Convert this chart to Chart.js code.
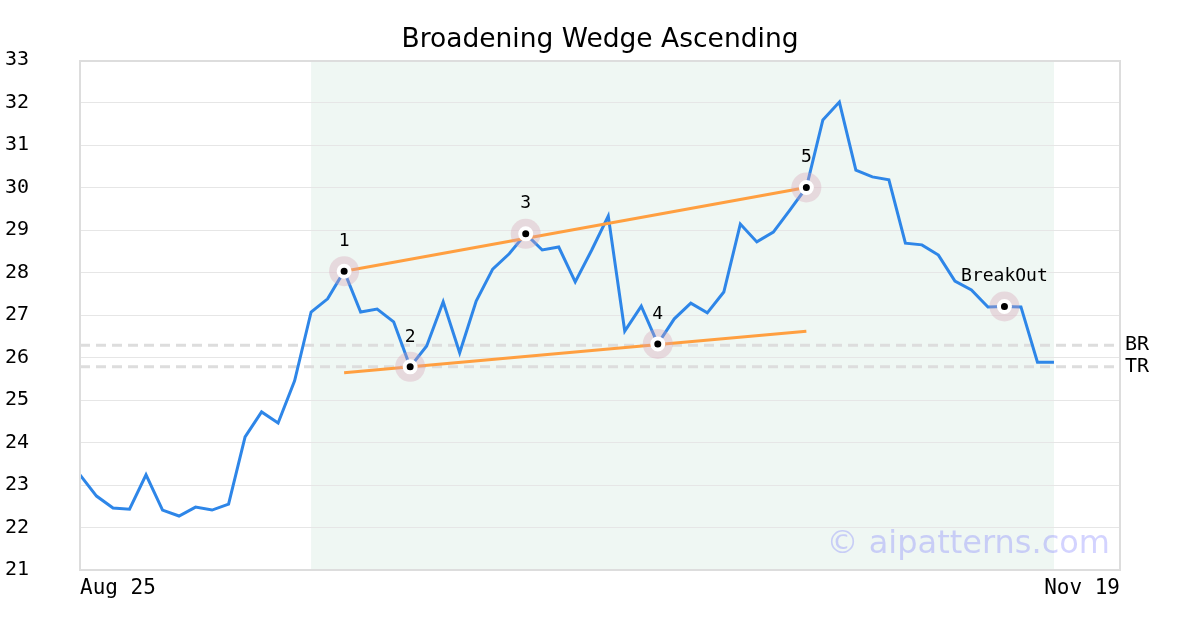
<!DOCTYPE html>
<html>
<head>
<meta charset="utf-8">
<title>Broadening Wedge Ascending</title>
<script src="https://cdn.jsdelivr.net/npm/chart.js@4.4.1/dist/chart.umd.min.js"></script>
<style>
    html, body { margin: 0; padding: 0; background: #fff; }
    #wrap { width: 1200px; height: 630px; }
</style>
</head>
<body>
<div id="wrap"><canvas id="patternChart" width="1200" height="630"></canvas></div>
<script>
// data
const xTickLabels = ['Aug 25', 'Nov 19'];
const xMax = 63;

const closes = [
    23.24, 22.74, 22.46, 22.43, 23.24, 22.41, 22.27, 22.48, 22.41, 22.55,
    24.13, 24.72, 24.46, 25.45, 27.07, 27.38, 28.03, 27.07, 27.14, 26.84,
    25.78, 26.27, 27.31, 26.11, 27.33, 28.08, 28.44, 28.91, 28.53, 28.60,
    27.78, 28.53, 29.33, 26.62, 27.21, 26.32, 26.91, 27.28, 27.05, 27.54,
    29.14, 28.72, 28.95, 29.47, 30.00, 31.59, 32.01, 30.41, 30.25, 30.18,
    28.69, 28.65, 28.41, 27.80, 27.59, 27.19, 27.20, 27.19, 25.89, 25.89
];

const pivotIdx = [16, 20, 27, 35, 44, 56];
const pivotLabels = ['1', '2', '3', '4', '5', 'BreakOut'];

const trendX = [16, 44];
const upperTrend = [28.03, 30.00];
const lowerTrend = [25.64, 26.62];

const levelNames = ['BR', 'TR'];
const levelValues = [26.29, 25.78];

const patternRange = [14, 59];

const MONO = '"DejaVu Sans Mono", monospace';
const SANS = '"DejaVu Sans", sans-serif';

document.addEventListener('DOMContentLoaded', function () {
    const pricePoints = closes.map((v, i) => ({ x: i, y: v }));
    const pivotPoints = pivotIdx.map(i => ({ x: i, y: closes[i] }));

    // shaded pattern zone + frame + text extras
    const extrasPlugin = {
        id: 'extras',
        beforeDraw(chart) {
            const { ctx, chartArea, scales } = chart;
            const x0 = scales.x.getPixelForValue(patternRange[0]);
            const x1 = scales.x.getPixelForValue(patternRange[1]);
            ctx.save();
            ctx.fillStyle = '#eff7f3';
            ctx.fillRect(x0, chartArea.top, x1 - x0, chartArea.bottom - chartArea.top);
            ctx.restore();
        },
        afterDatasetsDraw(chart) {
            const { ctx } = chart;
            const meta = chart.getDatasetMeta(0);
            ctx.save();
            ctx.font = '18px ' + MONO;
            ctx.fillStyle = '#000';
            ctx.textAlign = 'center';
            ctx.textBaseline = 'middle';
            meta.data.forEach((pt, i) => {
                ctx.fillText(pivotLabels[i], pt.x, pt.y - 30);
            });
            ctx.restore();
        },
        afterDraw(chart) {
            const { ctx, chartArea, scales } = chart;
            ctx.save();
            ctx.strokeStyle = '#dddddd';
            ctx.lineWidth = 2;
            ctx.strokeRect(chartArea.left, chartArea.top + 1, chartArea.right - chartArea.left, chartArea.bottom - chartArea.top - 1);

            ctx.font = '20px ' + MONO;
            ctx.fillStyle = '#000';
            ctx.textAlign = 'left';
            ctx.textBaseline = 'middle';
            levelNames.forEach((name, i) => {
                ctx.fillText(name, chartArea.right + 5, scales.y.getPixelForValue(levelValues[i]));
            });

            ctx.font = '32px ' + SANS;
            ctx.fillStyle = 'rgba(110, 110, 255, 0.3)';
            ctx.textAlign = 'right';
            ctx.textBaseline = 'alphabetic';
            ctx.fillText('\u00a9 aipatterns.com', chartArea.right - 10, chartArea.bottom - 17);
            ctx.restore();
        }
    };

    const levelDatasets = levelValues.map(v => ({
        data: [{ x: 0, y: v }, { x: xMax, y: v }],
        borderColor: '#dddddd',
        borderWidth: 3,
        borderDash: [10, 6],
        pointRadius: 0,
        order: 5
    }));

    new Chart(document.getElementById('patternChart'), {
        type: 'line',
        data: {
            datasets: [
                {
                    // pivots: black dot, white ring
                    data: pivotPoints,
                    showLine: false,
                    pointRadius: 5.5,
                    pointBackgroundColor: '#000',
                    pointBorderColor: '#fff',
                    pointBorderWidth: 4,
                    order: 0
                },
                {
                    // pivot halo
                    data: pivotPoints,
                    showLine: false,
                    pointRadius: 15,
                    pointBackgroundColor: 'rgba(215, 160, 180, 0.35)',
                    pointBorderWidth: 0,
                    order: 1
                },
                {
                    data: trendX.map((x, i) => ({ x, y: upperTrend[i] })),
                    borderColor: '#ff9f40',
                    borderWidth: 3,
                    pointRadius: 0,
                    order: 2
                },
                {
                    data: trendX.map((x, i) => ({ x, y: lowerTrend[i] })),
                    borderColor: '#ff9f40',
                    borderWidth: 3,
                    pointRadius: 0,
                    order: 2
                },
                {
                    data: pricePoints,
                    borderColor: '#2e86e8',
                    borderWidth: 3,
                    pointRadius: 0,
                    tension: 0,
                    order: 3
                },
                ...levelDatasets
            ]
        },
        options: {
            responsive: false,
            animation: false,
            layout: { padding: { left: 5, right: 5, top: 0, bottom: 0 } },
            plugins: {
                legend: { display: false },
                tooltip: { enabled: false },
                title: {
                    display: true,
                    text: 'Broadening Wedge Ascending',
                    color: '#000',
                    font: { family: SANS, size: 26.5, weight: 'normal' },
                    padding: { top: 24, bottom: 4.2 }
                }
            },
            scales: {
                x: {
                    type: 'linear',
                    min: 0,
                    max: xMax,
                    grid: { display: false, drawTicks: false },
                    border: { display: false },
                    afterBuildTicks: scale => {
                        scale.ticks = [{ value: 0 }, { value: xMax }];
                    },
                    afterFit: scale => { scale.height = 60; },
                    ticks: {
                        align: 'inner',
                        maxRotation: 0,
                        autoSkip: false,
                        padding: 6,
                        color: '#000',
                        font: { family: MONO, size: 21 },
                        callback: (value) => value === 0 ? xTickLabels[0] : xTickLabels[1]
                    }
                },
                y: {
                    min: 21,
                    max: 33,
                    grid: { color: '#e6e6e6', lineWidth: 1, drawTicks: false },
                    border: { display: false },
                    afterFit: scale => { scale.width = 75; },
                    ticks: {
                        stepSize: 1,
                        crossAlign: 'far',
                        padding: 8,
                        color: '#000',
                        font: { family: MONO, size: 20 }
                    }
                },
                // empty right axis, only reserves room for BR / TR
                yRight: {
                    position: 'right',
                    min: 21,
                    max: 33,
                    grid: { display: false, drawTicks: false },
                    border: { display: false },
                    ticks: { display: false },
                    afterFit: scale => { scale.width = 75; }
                }
            }
        },
        plugins: [extrasPlugin]
    });
});
</script>
</body>
</html>
